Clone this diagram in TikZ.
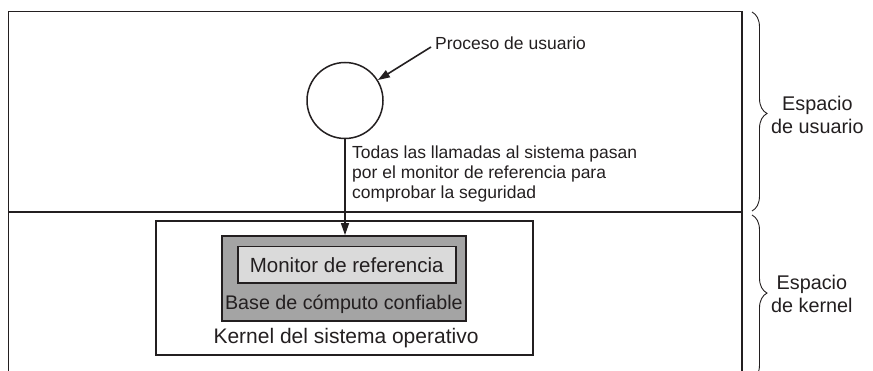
\documentclass[tikz,border=0pt]{standalone}
\usepackage{fontspec}
\setmainfont{Liberation Sans}
\usetikzlibrary{arrows.meta,decorations.pathreplacing}
\definecolor{diagramink}{HTML}{231F20}
\definecolor{tcbgray}{HTML}{A4A4A4}
\definecolor{monitorgray}{HTML}{DADADA}

\begin{document}
\begin{tikzpicture}[
  x=1pt,
  y=-1pt,
  every node/.style={diagramink, inner sep=0pt},
  frame/.style={diagramink, line width=1.8pt},
  divider/.style={diagramink, line width=1.5pt},
  box/.style={draw=diagramink, line width=1.6pt, rectangle, inner sep=0pt},
  link/.style={diagramink, line width=1.6pt, -{Triangle[length=12pt,width=8pt]}},
  brace/.style={diagramink, line width=0.9pt, decorate,
    decoration={brace, amplitude=15pt}},
  notefont/.style={font=\fontsize{17.5}{20}\selectfont},
  boxfont/.style={font=\fontsize{20.5}{24}\selectfont},
  sidefont/.style={font=\fontsize{19.8}{23.5}\selectfont}
]
  \useasboundingbox (0,0) rectangle (873,371);

  % ---- the frame and the line between the two spaces -------------------
  \draw[frame] (8.5,380) -- (8.5,11.5) -- (742,11.5) -- (742,380);
  \draw[divider] (8.5,212) -- (742,212);

  % ---- the user process ------------------------------------------------
  \node[circle, draw=diagramink, line width=1.5pt, minimum size=76pt]
    (user) at (345,100.5) {};
  \node[notefont, anchor=west] (proc) at (435,43) {Proceso de usuario};
  \draw[link] ([xshift=-4pt, yshift=-4pt]proc.west) -- (user);

  % ---- the kernel, the TCB and the reference monitor -------------------
  \node[box, minimum width=377pt, minimum height=134pt]
    (kernel) at (344.7,287.9) {};
  \node[box, fill=tcbgray, minimum width=244pt, minimum height=85pt]
    (tcb) at (343.9,278.4) {};
  \node[box, fill=monitorgray, boxfont, minimum width=218pt,
    minimum height=36.6pt] (monitor) at (346.7,265) {Monitor de referencia};
  \node[boxfont, font=\fontsize{19.7}{24}\selectfont] (tcbtext)
    at (343.9,304) {Base de cómputo confiable};
  \node[boxfont, font=\fontsize{21}{24}\selectfont] (kerneltext)
    at (346,338) {Kernel del sistema operativo};

  % ---- every system call goes through the monitor ----------------------
  \draw[link] (user.south) -- (user.south |- tcb.north);
  \node[notefont, anchor=north west, align=left] (calls) at (352,146)
    {Todas las llamadas al sistema pasan\\por el monitor de referencia para\\comprobar la seguridad};

  % ---- the braces on the right -----------------------------------------
  \draw[brace, decoration={aspect=0.51}] (752,12) -- (752,211);
  \draw[brace, decoration={aspect=0.473}] (752,215) -- (752,380);
  \node[sidefont, anchor=west, align=center] (userspace) at (771,115)
    {Espacio\\de usuario};
  \node[sidefont, anchor=west, align=center] (kernelspace) at (771,294)
    {Espacio\\de kernel};
\end{tikzpicture}
\end{document}
